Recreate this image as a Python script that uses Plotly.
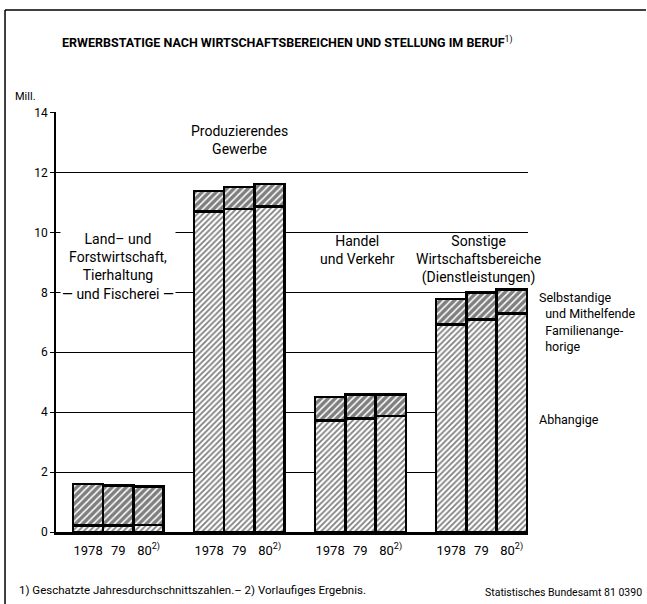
import plotly.graph_objects as go

# Werte in Mill.
jahre = ["1978", "79", "80<sup>2)</sup>"]
bereiche = ["Land- und Forstwirtschaft", "Produzierendes Gewerbe",
            "Handel und Verkehr", "Sonstige Wirtschaftsbereiche"]
abhaengige = [
    [0.22, 0.22, 0.23],
    [10.70, 10.79, 10.87],
    [3.73, 3.79, 3.88],
    [6.93, 7.10, 7.29],
]
selbststaendige = [
    [1.38, 1.34, 1.29],
    [0.68, 0.72, 0.74],
    [0.78, 0.80, 0.71],
    [0.84, 0.89, 0.81],
]

FONT = "Roboto, Liberation Sans, sans-serif"

# x-Positionen: drei Balken je Bereich, eine Balkenbreite Abstand
xpos, abh, selb, ticktext = [], [], [], []
for g in range(len(bereiche)):
    for j in range(len(jahre)):
        xpos.append(g * 4 + j)
        abh.append(abhaengige[g][j])
        selb.append(selbststaendige[g][j])
        ticktext.append(jahre[j])

fig = go.Figure()
fig.add_trace(go.Bar(
    x=xpos, y=abh, width=1, name="Abhangige",
    marker=dict(color="white", line=dict(color="black", width=2.5),
                pattern=dict(shape="/", fgcolor="black", bgcolor="white",
                             size=4, solidity=0.45)),
))
fig.add_trace(go.Bar(
    x=xpos, y=selb, width=1, name="Selbstandige",
    marker=dict(color="white", line=dict(color="black", width=2.5),
                pattern=dict(shape="/", fgcolor="black", bgcolor="white",
                             size=5, solidity=0.7)),
))

fig.update_layout(
    barmode="stack",
    width=647, height=604,
    margin=dict(l=56, r=119, t=112, b=72),
    paper_bgcolor="white", plot_bgcolor="white",
    showlegend=False,
    font=dict(family=FONT, color="black", size=12),
)
fig.update_xaxes(
    range=[-1.06, 14.54], tickvals=xpos, ticktext=ticktext,
    showgrid=False, zeroline=False, showline=True, linecolor="black", linewidth=3,
    ticks="", tickfont=dict(size=13), ticklabelstandoff=4,
)
fig.update_yaxes(
    range=[0, 14.02], dtick=2, showgrid=True, gridcolor="black", gridwidth=1,
    zeroline=False, showline=True, linecolor="black", linewidth=1.5,
    ticks="outside", ticklen=4, tickcolor="black", tickfont=dict(size=12),
)

ann = dict(xref="x", yref="y", showarrow=False, font=dict(family=FONT, size=14))
fig.add_annotation(x=5, y=13.1, text="Produzierendes<br>Gewerbe", **ann)
fig.add_annotation(x=1, y=8.85, text="Land\u2013 und<br>Forstwirtschaft,<br>Tierhaltung<br>\u2014 und Fischerei \u2014",
                   bgcolor="white", **ann)
fig.add_annotation(x=8.9, y=9.4, text="Handel<br>und Verkehr", **ann)
fig.add_annotation(x=12.9, y=9.1, text="Sonstige<br>Wirtschaftsbereiche<br>(Dienstleistungen)", **ann)

side = dict(xref="paper", yref="y", showarrow=False, xanchor="left", align="left",
            font=dict(family=FONT, size=12.5))
fig.add_annotation(x=1.02, y=7.0, text="Selbstandige<br>  und Mithelfende<br>  Familienange-<br>  horige", **side)
fig.add_annotation(x=1.02, y=3.75, text="Abhangige", **side)

fig.add_annotation(xref="paper", yref="paper", x=-0.038, y=1.036, xanchor="right", yanchor="middle",
                   text="Mill.", showarrow=False, font=dict(family=FONT, size=11))
fig.add_annotation(xref="paper", yref="paper", x=0.49, y=1.166, xanchor="center", yanchor="middle",
                   text="<b>ERWERBSTATIGE NACH WIRTSCHAFTSBEREICHEN UND STELLUNG IM BERUF</b><sup>1)</sup>",
                   showarrow=False, font=dict(family=FONT, size=12.5))
fig.add_annotation(xref="paper", yref="paper", x=-0.082, y=-0.138, xanchor="left", yanchor="middle",
                   text="1) Geschatzte Jahresdurchschnittszahlen.\u2013 2) Vorlaufiges Ergebnis.",
                   showarrow=False, font=dict(family=FONT, size=11.5))
fig.add_annotation(xref="paper", yref="paper", x=1.245, y=-0.143, xanchor="right", yanchor="middle",
                   text="Statistisches Bundesamt 81 0390",
                   showarrow=False, font=dict(family=FONT, size=10.5))

# Rahmen links und oben
fig.add_shape(type="line", xref="paper", yref="paper", x0=-0.108, x1=-0.108, y0=1.243, y1=-0.2,
              line=dict(color="black", width=1.5))
fig.add_shape(type="line", xref="paper", yref="paper", x0=-0.108, x1=1.25, y0=1.243, y1=1.243,
              line=dict(color="black", width=1.5))

fig.write_html("out.html", config={"displayModeBar": False},
               post_script="document.body.style.margin='0';document.body.style.overflow='hidden';")
